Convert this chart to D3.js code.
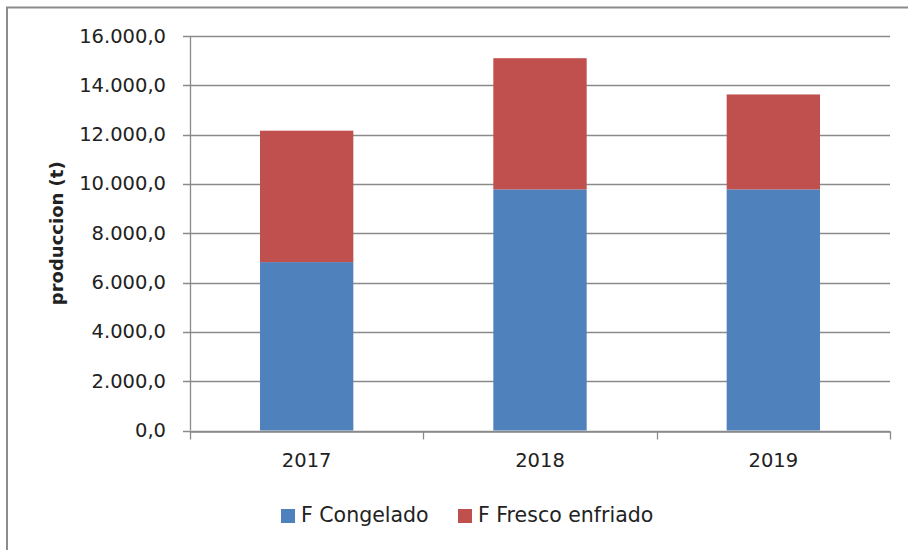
<!DOCTYPE html>
<html>
<head>
<meta charset="utf-8">
<script src="https://cdn.jsdelivr.net/npm/d3@7"></script>
<style>
    html, body { margin: 0; padding: 0; background: #fff; }
    svg { display: block; font-family: "DejaVu Sans", sans-serif; }
</style>
</head>
<body>
<div id="chart"></div>
<script>
"use strict";

const years = ['2017', '2018', '2019'];
const seriesNames = ['F Congelado', 'F Fresco enfriado'];
const seriesColors = ['#4F81BD', '#C0504D'];
const congelado = [6830, 9780, 9780];
const frescoEnfriado = [5330, 5320, 3850];
const yTicks = [0, 2000, 4000, 6000, 8000, 10000, 12000, 14000, 16000];

const width = 908;
const height = 550;
const plot = { left: 190, right: 890, top: 36, bottom: 430.5 };

const locale = d3.formatLocale({ decimal: ',', thousands: '.', grouping: [3], currency: ['', ''] });
const formatTick = locale.format(',.1f');

const rows = years.map((year, i) => ({
    year: year,
    'F Congelado': congelado[i],
    'F Fresco enfriado': frescoEnfriado[i]
}));

const stacked = d3.stack().keys(seriesNames)(rows);

const x = d3.scaleBand()
    .domain(years)
    .range([plot.left, plot.right])
    .padding(0);

const y = d3.scaleLinear()
    .domain([0, 16000])
    .range([plot.bottom, plot.top]);

const svg = d3.select('#chart')
    .append('svg')
    .attr('width', width)
    .attr('height', height);

// chart frame (only top and left edges are visible in the picture)
svg.append('path')
    .attr('d', `M7,${height + 5}V7.5H${width + 5}`)
    .attr('fill', 'none')
    .attr('stroke', '#8c8c8c')
    .attr('stroke-width', 2);

// ------------------------- Gridlines & Axes -------------------------

svg.append('g')
    .selectAll('line')
    .data(yTicks)
    .join('line')
    .attr('x1', plot.left - 7)
    .attr('x2', plot.right)
    .attr('y1', d => Math.round(y(d)) + 0.5)
    .attr('y2', d => Math.round(y(d)) + 0.5)
    .attr('stroke', '#8a8a8a')
    .attr('stroke-width', 1.3);

svg.append('g')
    .selectAll('text')
    .data(yTicks)
    .join('text')
    .attr('x', 166)
    .attr('y', d => y(d) + 1)
    .attr('text-anchor', 'end')
    .attr('dominant-baseline', 'middle')
    .attr('font-size', 19.5)
    .attr('fill', '#222')
    .text(d => formatTick(d));

// y axis line
svg.append('line')
    .attr('x1', plot.left + 0.5)
    .attr('x2', plot.left + 0.5)
    .attr('y1', plot.top)
    .attr('y2', plot.bottom)
    .attr('stroke', '#8a8a8a')
    .attr('stroke-width', 1.3);

// x axis with category boundary ticks
const xAxis = d3.axisBottom(x)
    .tickSize(0)
    .tickPadding(22);

const xAxisGroup = svg.append('g')
    .attr('transform', `translate(0,${Math.round(plot.bottom) + 0.5})`)
    .call(xAxis);

xAxisGroup.select('.domain')
    .attr('stroke', '#8a8a8a')
    .attr('stroke-width', 1.3);

xAxisGroup.selectAll('text')
    .attr('font-family', '"DejaVu Sans", sans-serif')
    .attr('font-size', 19.5)
    .attr('fill', '#222');

const boundaries = years.map(d => x(d)).concat([x(years[years.length - 1]) + x.bandwidth()]);

xAxisGroup.selectAll('.boundary')
    .data(boundaries)
    .join('line')
    .classed('boundary', true)
    .attr('x1', d => Math.round(d) + 0.5)
    .attr('x2', d => Math.round(d) + 0.5)
    .attr('y1', 0)
    .attr('y2', 8)
    .attr('stroke', '#8a8a8a')
    .attr('stroke-width', 1.3);

// y axis title
svg.append('text')
    .attr('transform', `translate(63,${(plot.top + plot.bottom) / 2}) rotate(-90)`)
    .attr('text-anchor', 'middle')
    .attr('font-size', 18)
    .attr('font-weight', 'bold')
    .attr('fill', '#222')
    .text('produccion (t)');

// ------------------------- Bars -------------------------

const barWidth = x.bandwidth() * 0.4;

svg.append('g')
    .selectAll('g')
    .data(stacked)
    .join('g')
    .attr('fill', (d, i) => seriesColors[i])
    .selectAll('rect')
    .data(d => d)
    .join('rect')
    .attr('x', d => x(d.data.year) + (x.bandwidth() - barWidth) / 2)
    .attr('y', d => y(d[1]))
    .attr('width', barWidth)
    .attr('height', d => y(d[0]) - y(d[1]));

// ------------------------- Legend -------------------------

const legendX = [281, 458];

const legend = svg.append('g')
    .selectAll('g')
    .data(seriesNames)
    .join('g')
    .attr('transform', (d, i) => `translate(${legendX[i]},509)`);

legend.append('rect')
    .attr('width', 14)
    .attr('height', 14)
    .attr('fill', (d, i) => seriesColors[i]);

legend.append('text')
    .attr('x', 20)
    .attr('y', 7)
    .attr('dominant-baseline', 'middle')
    .attr('font-size', 20.5)
    .attr('fill', '#222')
    .text(d => d);
</script>
</body>
</html>
